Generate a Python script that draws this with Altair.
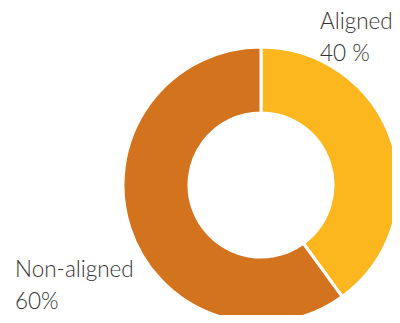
import altair as alt
import pandas as pd

categories = ["Aligned", "Non-aligned"]
values = [40, 60]
label_texts = ["Aligned\n40 %", "Non-aligned\n60%"]
colors = ["#FDB71E", "#D4731E"]

df = pd.DataFrame({"category": categories, "value": values, "order": [0, 1]})

arc = alt.Chart(df).mark_arc(
    innerRadius=72, outerRadius=138, stroke="white", strokeWidth=3
).encode(
    theta=alt.Theta("value:Q", stack=True),
    color=alt.Color("category:N", scale=alt.Scale(domain=categories, range=colors), legend=None),
    order=alt.Order("order:Q"),
    x=alt.value(253),
    y=alt.value(177),
)

lbl1 = alt.Chart(pd.DataFrame({"t": [label_texts[0]]})).mark_text(
    align="left", baseline="alphabetic", font="Lato", fontWeight=300, fontSize=22.5,
    color="#333333", lineBreak="\n", lineHeight=32
).encode(text="t:N", x=alt.value(312), y=alt.value(21))

lbl2 = alt.Chart(pd.DataFrame({"t": [label_texts[1]]})).mark_text(
    align="left", baseline="alphabetic", font="Lato", fontWeight=300, fontSize=22.5,
    color="#333333", lineBreak="\n", lineHeight=32
).encode(text="t:N", x=alt.value(7), y=alt.value(269))

chart = alt.layer(arc, lbl1, lbl2).properties(
    width=384, height=307, autosize=alt.AutoSizeParams(type="none"), padding=0
).configure_view(stroke=None)

chart.save("out.html", embed_options={"renderer": "svg", "actions": False})
